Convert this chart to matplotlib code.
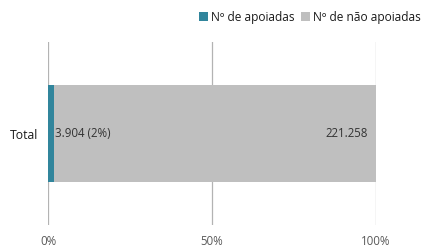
import matplotlib.pyplot as plt
import numpy as np

plt.rcParams['font.family'] = ['Open Sans', 'DejaVu Sans']

# Data
categories = ['Total']
apoiadas = np.array([3904])
nao_apoiadas = np.array([221258])
series_labels = ['Nº de apoiadas', 'Nº de não apoiadas']
colors = ['#31859c', '#bfbfbf']


def fmt(n):
    return f'{n:,}'.replace(',', '.')


total = apoiadas + nao_apoiadas
pct_a = apoiadas / total * 100
pct_n = nao_apoiadas / total * 100

fig = plt.figure(figsize=(4.26, 2.47), dpi=100)
ax = fig.add_axes([0.1127, 0.089, 0.77, 0.741])

y = np.arange(len(categories))
b1 = ax.barh(y, pct_a, height=0.525, color=colors[0], label=series_labels[0], zorder=2)
b2 = ax.barh(y, pct_n, left=pct_a, height=0.525, color=colors[1], label=series_labels[1], zorder=2)

# Data labels
for i in range(len(categories)):
    ax.text(pct_a[i] + 0.4, y[i], f'{fmt(int(apoiadas[i]))} ({pct_a[i]:.0f}%)',
            ha='left', va='center', fontsize=8.3, color='#333333', zorder=3)
    ax.text(100 - 2.4, y[i], fmt(int(nao_apoiadas[i])),
            ha='right', va='center', fontsize=8.3, color='#333333', zorder=3)

ax.set_xlim(0, 100)
ax.set_ylim(-0.5, 0.5)
ax.set_xticks([0, 50, 100])
ax.set_xticklabels(['0%', '50%', '100%'])
ax.set_yticks(y)
ax.set_yticklabels(categories)
ax.tick_params(axis='x', length=0, pad=7, labelsize=8.3, labelcolor='#595959')
ax.tick_params(axis='y', length=0, pad=7, labelsize=8.8, labelcolor='#1a1a1a')
ax.xaxis.grid(True, color='#b3b3b3', linewidth=0.9, zorder=1)
ax.set_axisbelow(True)
for s in ax.spines.values():
    s.set_visible(False)

fig.legend(handles=[b1, b2], loc='upper right', bbox_to_anchor=(1.0, 0.975), ncol=2,
           frameon=False, fontsize=8.6, handlelength=0.75, handleheight=0.75,
           handletextpad=0.3, columnspacing=0.5, borderaxespad=0, labelcolor='#1a1a1a')

fig.savefig('out.png', dpi=100)
